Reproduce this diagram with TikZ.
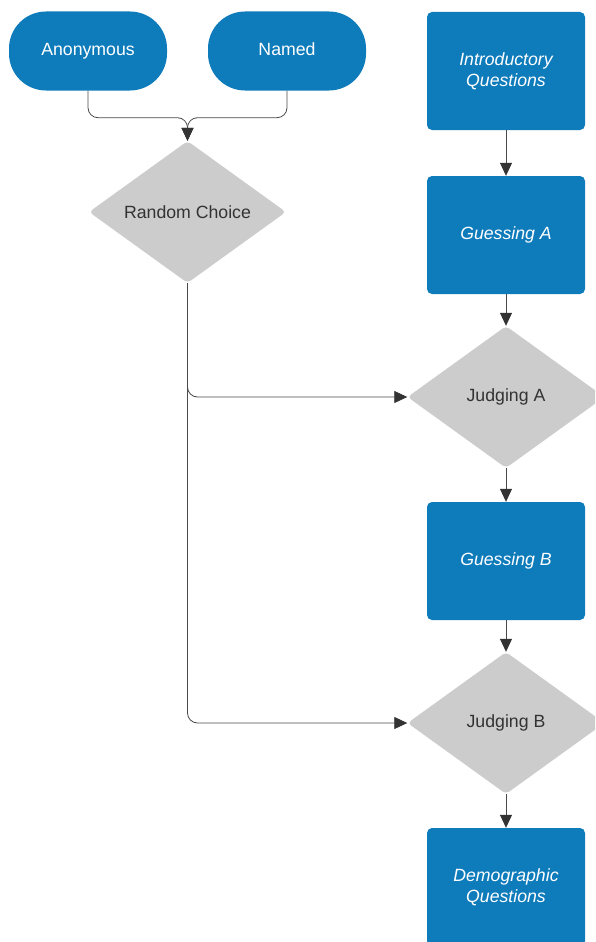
\documentclass[tikz,border=0pt]{standalone}
\usepackage{fontspec}
\setmainfont{Liberation Sans}
\usetikzlibrary{shapes.geometric,arrows.meta}
\definecolor{boxblue}{HTML}{0E7BBB}
\definecolor{diagray}{HTML}{CCCCCC}
\definecolor{linegray}{HTML}{4A4A4A}
\definecolor{tipgray}{HTML}{333333}

\begin{document}
\begin{tikzpicture}[
  x=1pt, y=-1pt,
  every node/.style={font=\fontsize{17.7}{21}\selectfont},
  pillnode/.style={rectangle, rounded corners=37pt, fill=boxblue, text=white, minimum width=158pt, minimum height=79pt, inner sep=0pt, text height=12.7pt, text depth=3.7pt},
  qbox/.style={rectangle, rounded corners=5pt, fill=boxblue, text=white, minimum width=158pt, minimum height=118pt, inner sep=0pt, align=center, font=\fontsize{17.7}{21}\selectfont\itshape},
  choicenode/.style={diamond, rounded corners=4pt, fill=diagray, text=tipgray, minimum width=197pt, minimum height=142pt, inner sep=0pt},
  flow/.style={-{Triangle[length=13pt,width=12pt,color=tipgray]}, linegray, line width=0.8pt, rounded corners=10pt},
]
\useasboundingbox (0,0) rectangle (595,942);
\clip (0,0) rectangle (595,942);

% entry conditions
\node[pillnode] (anon) at (88, 51) {Anonymous};
\node[pillnode] (named) at (287, 51) {Named};
\node[choicenode] (rc) at (187.5, 212) {Random Choice};

% question sequence
\node[qbox] (intro) at (506, 71) {Introductory\\Questions};
\node[qbox] (ga) at (506, 235) {Guessing A};
\node[choicenode] (ja) at (506, 397) {Judging A};
\node[qbox] (gb) at (506, 561) {Guessing B};
\node[choicenode] (jb) at (506, 723) {Judging B};
\node[qbox] (demo) at (506, 887) {Demographic\\Questions};

% connectors
\draw[flow] (anon.south) -- ++(0, 27) -| (rc.north);
\draw[flow] (named.south) -- ++(0, 27) -| (rc.north);
\draw[flow] (rc.south) |- (ja.west);
\draw[flow] (rc.south) |- (jb.west);
\draw[flow] (intro) -- (ga);
\draw[flow] (ga) -- (ja);
\draw[flow] (ja) -- (gb);
\draw[flow] (gb) -- (jb);
\draw[flow] (jb) -- (demo);

\end{tikzpicture}
\end{document}
